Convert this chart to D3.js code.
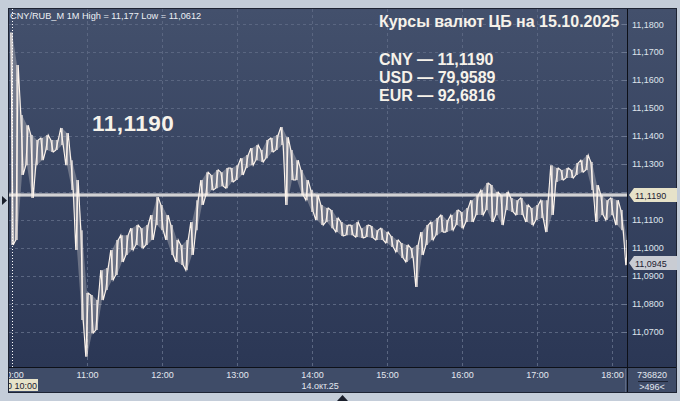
<!DOCTYPE html>
<html>
<head>
<meta charset="utf-8">
<script src="https://cdn.jsdelivr.net/npm/d3@7"></script>
<style>
  html, body { margin: 0; padding: 0; background: #c4cdd9; }
  svg { display: block; font-family: "Liberation Sans", Arial, sans-serif; }
</style>
</head>
<body>
<div id="chart"></div>
<script>
// CNY/RUB_M, 1-minute bars, 14.10.2025, sampled every 4 minutes from 10:00
const startTime = "2025-10-14T10:00";
const stepMinutes = 4;
const highs = [
  11.1770, 11.1654, 11.1475, 11.1439, 11.1404, 11.1386, 11.1393, 11.1404, 11.1386, 11.1386,
  11.1429, 11.1411, 11.1314, 11.1243, 11.1064, 11.0839, 11.0832, 11.0814, 11.0921, 11.0929,
  11.0993, 11.1029, 11.1046, 11.1046, 11.1071, 11.1082, 11.1071, 11.1082, 11.1118, 11.1182,
  11.1154, 11.1118, 11.1082, 11.1029, 11.1011, 11.1029, 11.1093, 11.1171, 11.1243, 11.1271,
  11.1261, 11.1279, 11.1271, 11.1286, 11.1286, 11.1296, 11.1321, 11.1332, 11.1357, 11.1368,
  11.1350, 11.1386, 11.1393, 11.1404, 11.1432, 11.1396, 11.1350, 11.1314, 11.1279, 11.1243,
  11.1207, 11.1189, 11.1154, 11.1143, 11.1136, 11.1107, 11.1093, 11.1082, 11.1082, 11.1093,
  11.1071, 11.1082, 11.1079, 11.1064, 11.1071, 11.1057, 11.1043, 11.1029, 11.1018, 11.1011,
  11.1000, 11.1011, 11.1057, 11.1082, 11.1093, 11.1107, 11.1118, 11.1100, 11.1118, 11.1136,
  11.1129, 11.1143, 11.1171, 11.1189, 11.1207, 11.1232, 11.1225, 11.1200, 11.1189, 11.1200,
  11.1179, 11.1171, 11.1179, 11.1154, 11.1143, 11.1154, 11.1171, 11.1171, 11.1296, 11.1286,
  11.1279, 11.1286, 11.1279, 11.1304, 11.1314, 11.1332, 11.1307, 11.1225, 11.1189, 11.1171,
  11.1179, 11.1171, 11.1136, 11.1029
];
const lows = [
  11.1011, 11.1029, 11.1261, 11.1296, 11.1179, 11.1296, 11.1314, 11.1350, 11.1343, 11.1350,
  11.1368, 11.1296, 11.1207, 11.0993, 11.0743, 11.0612, 11.0696, 11.0707, 11.0814, 11.0850,
  11.0886, 11.0904, 11.0950, 11.0975, 11.0993, 11.1011, 11.1000, 11.1011, 11.1029, 11.1082,
  11.1064, 11.1029, 11.0975, 11.0950, 11.0939, 11.0921, 11.0975, 11.1064, 11.1154, 11.1189,
  11.1207, 11.1214, 11.1221, 11.1214, 11.1236, 11.1243, 11.1261, 11.1286, 11.1296, 11.1314,
  11.1307, 11.1321, 11.1343, 11.1350, 11.1368, 11.1154, 11.1243, 11.1243, 11.1189, 11.1171,
  11.1129, 11.1100, 11.1082, 11.1093, 11.1071, 11.1057, 11.1043, 11.1046, 11.1046, 11.1039,
  11.1036, 11.1039, 11.1036, 11.1029, 11.1029, 11.1018, 11.1004, 11.0986, 11.0964, 11.0950,
  11.0964, 11.0861, 11.0975, 11.1011, 11.1029, 11.1046, 11.1057, 11.1057, 11.1064, 11.1082,
  11.1071, 11.1093, 11.1093, 11.1118, 11.1118, 11.1136, 11.1093, 11.1118, 11.1082, 11.1136,
  11.1129, 11.1118, 11.1118, 11.1093, 11.1082, 11.1100, 11.1107, 11.1057, 11.1118, 11.1236,
  11.1243, 11.1250, 11.1250, 11.1261, 11.1271, 11.1279, 11.1207, 11.1093, 11.1118, 11.1100,
  11.1118, 11.1082, 11.1064, 11.0939
];
// 11,1200 is hidden under the CB-rate tag in the reference
const yTicks = [11.18, 11.17, 11.16, 11.15, 11.14, 11.13, 11.11, 11.10, 11.09, 11.08, 11.07];
const gridTicks = [11.18, 11.17, 11.16, 11.15, 11.14, 11.13, 11.12, 11.11, 11.10, 11.09, 11.08, 11.07];
const hourTicks = ["10:00", "11:00", "12:00", "13:00", "14:00", "15:00", "16:00", "17:00", "18:00"];
const cbRate = 11.1190;
const lastPrice = 11.0945;
const titleText = "CNY/RUB_M 1M High = 11,177 Low = 11,0612";
const headline = "Курсы валют ЦБ на 15.10.2025";
const cbLines = ["CNY — 11,1190", "USD — 79,9589", "EUR — 92,6816"];
const dateLabel = "14.окт.25";
const cursorLabel = "14.10 10:00";
const volumeText = "736820";
const barsText = ">496<";

const W = 680, H = 401;
const plotL = 9, plotR = 627, plotT = 9, plotB = 367;

const svg = d3.select("#chart").append("svg").attr("width", W).attr("height", H);
const defs = svg.append("defs");
const grad = defs.append("linearGradient").attr("id", "bg").attr("x1", 0).attr("x2", 0).attr("y1", 0).attr("y2", 1);
grad.append("stop").attr("offset", "0%").attr("stop-color", "#43506c");
grad.append("stop").attr("offset", "100%").attr("stop-color", "#2b3755");
defs.append("clipPath").attr("id", "plotClip").append("rect")
  .attr("x", plotL).attr("y", plotT).attr("width", plotR - plotL).attr("height", plotB - plotT);
defs.append("clipPath").attr("id", "axisClip").append("rect")
  .attr("x", plotL).attr("y", plotB).attr("width", plotR - plotL).attr("height", 393 - plotB);

const parse = d3.timeParse("%Y-%m-%dT%H:%M");
const t0 = parse(startTime);
const times = highs.map((d, i) => d3.timeMinute.offset(t0, i * stepMinutes));

const x = d3.scaleTime()
  .domain([parse("2025-10-14T10:00"), parse("2025-10-14T18:00")])
  .range([12, 612]);
const y = d3.scaleLinear().domain([11.0575, 11.1854]).range([plotB, plotT]);
const fmt = v => d3.format(".4f")(v).replace(".", ",");

// panels
svg.append("rect").attr("x", 8).attr("y", 8).attr("width", 669).attr("height", 385)
  .attr("fill", "#3f4c68");
svg.append("rect").attr("x", plotL).attr("y", plotT).attr("width", 677 - plotL).attr("height", plotB - plotT)
  .attr("fill", "url(#bg)");

// grid
const grid = svg.append("g").attr("clip-path", "url(#plotClip)");
grid.selectAll(".hg").data(gridTicks).join("line")
  .attr("x1", plotL).attr("x2", plotR)
  .attr("y1", d => Math.round(y(d)) + 0.5).attr("y2", d => Math.round(y(d)) + 0.5)
  .attr("stroke", "#5a6681").attr("stroke-dasharray", "3,3");
const hourDates = hourTicks.map(h => parse("2025-10-14T" + h));
grid.selectAll(".vg").data(hourDates.slice(1)).join("line")
  .attr("x1", d => Math.round(x(d)) + 0.5).attr("x2", d => Math.round(x(d)) + 0.5)
  .attr("y1", plotT).attr("y2", plotB)
  .attr("stroke", "#5a6681").attr("stroke-dasharray", "3,3");

// small tick marks on right edge of plot
grid.selectAll(".rt").data(gridTicks).join("line")
  .attr("x1", plotR - 5).attr("x2", plotR)
  .attr("y1", d => Math.round(y(d)) + 0.5).attr("y2", d => Math.round(y(d)) + 0.5)
  .attr("stroke", "#6a7690");

// CB rate line
const rateY = Math.round(y(cbRate));
grid.append("line").attr("x1", plotL).attr("x2", plotR).attr("y1", rateY).attr("y2", rateY)
  .attr("stroke", "#f4f0e8").attr("stroke-width", 3);
grid.append("line").attr("x1", plotL).attr("x2", plotR).attr("y1", rateY).attr("y2", rateY)
  .attr("stroke", "#aeb3c0").attr("stroke-width", 1);

// price bars: faint high-low band, zigzag trace and a vertical bar per sample
const ink = "#fdf4ec";
const plot = svg.append("g").attr("clip-path", "url(#plotClip)");
const band = d3.area()
  .x((d, i) => x(times[i]))
  .y0((d, i) => y(lows[i]))
  .y1(d => y(d));
plot.append("path").attr("d", band(highs)).attr("fill", ink).attr("fill-opacity", 0.28);
const pts = [];
highs.forEach((h, i) => {
  const xi = x(times[i]);
  const a = i % 2 === 0 ? h : lows[i];
  const b = i % 2 === 0 ? lows[i] : h;
  pts.push([xi - 1.25, y(a)], [xi + 1.25, y(b)]);
});
plot.append("path").attr("d", d3.line()(pts))
  .attr("fill", "none").attr("stroke", ink).attr("stroke-width", 1.1);
plot.selectAll(".bar").data(highs).join("line")
  .attr("x1", (d, i) => x(times[i])).attr("x2", (d, i) => x(times[i]))
  .attr("y1", d => y(d)).attr("y2", (d, i) => y(lows[i]))
  .attr("stroke", ink).attr("stroke-width", 1.2);

// cursor
plot.append("line").attr("x1", 12.5).attr("x2", 12.5).attr("y1", plotT).attr("y2", plotB)
  .attr("stroke", "#ffffff").attr("stroke-dasharray", "1,2");

// separators
svg.append("line").attr("x1", 627.5).attr("x2", 627.5).attr("y1", 8).attr("y2", 393).attr("stroke", "#0d1018");
svg.append("line").attr("x1", 8).attr("x2", 677).attr("y1", 367.5).attr("y2", 367.5).attr("stroke", "#0d1018");
svg.append("line").attr("x1", 625.5).attr("x2", 625.5).attr("y1", 369).attr("y2", 392).attr("stroke", "#5e6a84");
svg.append("rect").attr("x", 8.5).attr("y", 8.5).attr("width", 668).attr("height", 384)
  .attr("fill", "none").attr("stroke", "#1d2333");

// right axis
const yAxis = d3.axisRight(y).tickValues(yTicks).tickSize(0).tickPadding(0).tickFormat(fmt);
const ya = svg.append("g").attr("transform", "translate(632,0)").call(yAxis);
ya.select(".domain").remove();
ya.selectAll("text").attr("fill", "#dfe4ec").attr("font-size", 9).attr("font-family", "Liberation Sans, Arial, sans-serif");

// bottom axis
const xAxis = d3.axisBottom(x).tickValues(hourDates).tickSize(0).tickPadding(0).tickFormat(d3.timeFormat("%H:%M"));
const xa = svg.append("g").attr("clip-path", "url(#axisClip)")
  .append("g").attr("transform", `translate(0,${plotB + 4.5})`).call(xAxis);
xa.select(".domain").remove();
xa.selectAll("text").attr("fill", "#e4e8ef").attr("font-size", 9).attr("font-family", "Liberation Sans, Arial, sans-serif");

svg.append("text").attr("x", x(hourDates[4]) - 10.5).attr("y", 389)
  .attr("fill", "#e4e8ef").attr("font-size", 9).text(dateLabel);

// cursor label at bottom-left
const cl = svg.append("g").attr("clip-path", "url(#axisClip)");
cl.append("rect").attr("x", 9).attr("y", 379).attr("width", 29).attr("height", 12).attr("fill", "#e7e3c9");
cl.append("text").attr("x", 37).attr("y", 389).attr("text-anchor", "end")
  .attr("fill", "#1b2030").attr("font-size", 9).text(cursorLabel);

// right price labels
function priceTag(v, fill) {
  const cy = Math.round(y(v));
  svg.append("path")
    .attr("d", `M629,${cy} L634,${cy - 7} L677,${cy - 7} L677,${cy + 7} L634,${cy + 7} Z`)
    .attr("fill", fill);
  svg.append("text").attr("x", 635).attr("y", cy + 3.5)
    .attr("fill", "#1b2030").attr("font-size", 9).text(fmt(v));
}
priceTag(cbRate, "#e6e2c9");
priceTag(lastPrice, "#c9ccd3");

// volume / bars count
svg.append("text").attr("x", 652).attr("y", 378).attr("text-anchor", "middle")
  .attr("fill", "#e4e8ef").attr("font-size", 9).text(volumeText);
svg.append("line").attr("x1", 638).attr("x2", 668).attr("y1", 381.5).attr("y2", 381.5).attr("stroke", "#1d2333");
svg.append("text").attr("x", 652).attr("y", 390).attr("text-anchor", "middle")
  .attr("fill", "#e4e8ef").attr("font-size", 9).text(barsText);

// title
svg.append("text").attr("x", 10).attr("y", 19).attr("fill", "#eceff4").attr("font-size", 9.2).text(titleText);

// overlay texts
const cream = "#f6f2ea";
svg.append("text").attr("x", 379).attr("y", 27).attr("fill", cream)
  .attr("font-size", 16).attr("font-weight", "bold").text(headline);
svg.selectAll(".cb").data(cbLines).join("text")
  .attr("x", 379).attr("y", (d, i) => 65 + i * 18).attr("fill", cream)
  .attr("font-size", 16).attr("font-weight", "bold").text(d => d);
svg.append("text").attr("x", 92).attr("y", 131).attr("fill", cream)
  .attr("font-size", 22.5).attr("font-weight", "bold").attr("letter-spacing", 0.5).text(fmt(cbRate));

// markers on outer frame
svg.append("path").attr("d", "M2,196 L7,200.5 L2,205 Z").attr("fill", "#1a1f2c");
svg.append("path").attr("d", "M337,401 L342.5,395 L348,401 Z").attr("fill", "#1a1f2c");
</script>
</body>
</html>
